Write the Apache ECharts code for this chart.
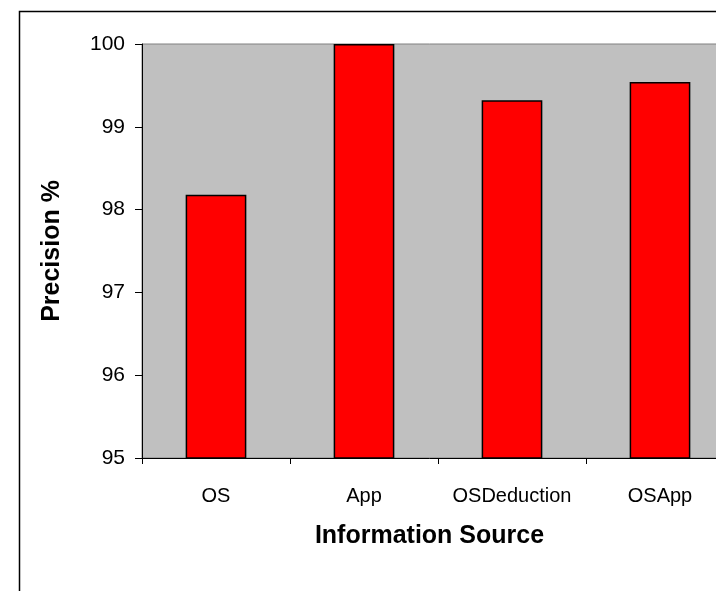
<!DOCTYPE html>
<html>
<head>
<meta charset="utf-8">
<title>Precision by information source</title>
<script src="https://cdn.jsdelivr.net/npm/echarts@6/dist/echarts.min.js"></script>
<style>
  html, body { margin: 0; padding: 0; background: #fff; }
  #main { width: 716px; height: 591px; }
</style>
</head>
<body>
<div id="main"></div>
<script>
// data
var categories = ["OS", "App", "OSDeduction", "OSApp"];
var precision = [98.18, 100, 99.32, 99.54];
var yTicks = [95, 96, 97, 98, 99, 100];

var labelFont = "'Liberation Sans', Arial, sans-serif";
var titleFont = "'Liberation Sans', Arial, sans-serif";

var myChart = echarts.init(document.getElementById("main"));

var option = {
  backgroundColor: "#fff",
  animation: false,
  // outer frame of the chart area (runs off the right/bottom)
  graphic: [{
    type: "rect",
    left: 17, top: 9,
    shape: { width: 900, height: 800 },
    style: { fill: "none", stroke: "#000", lineWidth: 1.5 },
    silent: true
  }],
  // plot area is wider than the window, the last part is cut off
  grid: {
    left: 142,
    top: 44,
    right: -18,
    bottom: 133,
    outerBoundsMode: "none",
    containLabel: false,
    show: true,
    backgroundColor: "#C0C0C0",
    borderColor: "#808080",
    borderWidth: 1
  },
  xAxis: {
    type: "category",
    data: categories,
    name: "Information Source",
    nameLocation: "middle",
    nameGap: 66,
    nameTextStyle: {
      fontFamily: titleFont, fontWeight: "bold", fontSize: 25, color: "#000",
      padding: [0, 17, 0, 0] // centre on the visible part
    },
    axisLine: { lineStyle: { color: "#000", width: 1 } },
    axisTick: { show: true, interval: 0, length: 6, lineStyle: { color: "#000" } },
    axisLabel: { interval: 0, margin: 28, fontFamily: labelFont, fontSize: 20, color: "#000" }
  },
  yAxis: {
    type: "value",
    min: yTicks[0],
    max: yTicks[yTicks.length - 1],
    interval: 1,
    name: "Precision %",
    nameLocation: "middle",
    nameGap: 77,
    nameTextStyle: { fontFamily: titleFont, fontWeight: "bold", fontSize: 25, color: "#000" },
    axisLine: { show: true, lineStyle: { color: "#000", width: 1 } },
    axisTick: { show: true, length: 7, lineStyle: { color: "#000" } },
    axisLabel: { margin: 17, fontFamily: labelFont, fontSize: 21, color: "#000" },
    splitLine: { show: false }
  },
  series: [{
    type: "bar",
    data: precision,
    barWidth: "41%",
    itemStyle: { color: "#FF0000", borderColor: "#000", borderWidth: 1.5 }
  }]
};

myChart.setOption(option);
</script>
</body>
</html>
